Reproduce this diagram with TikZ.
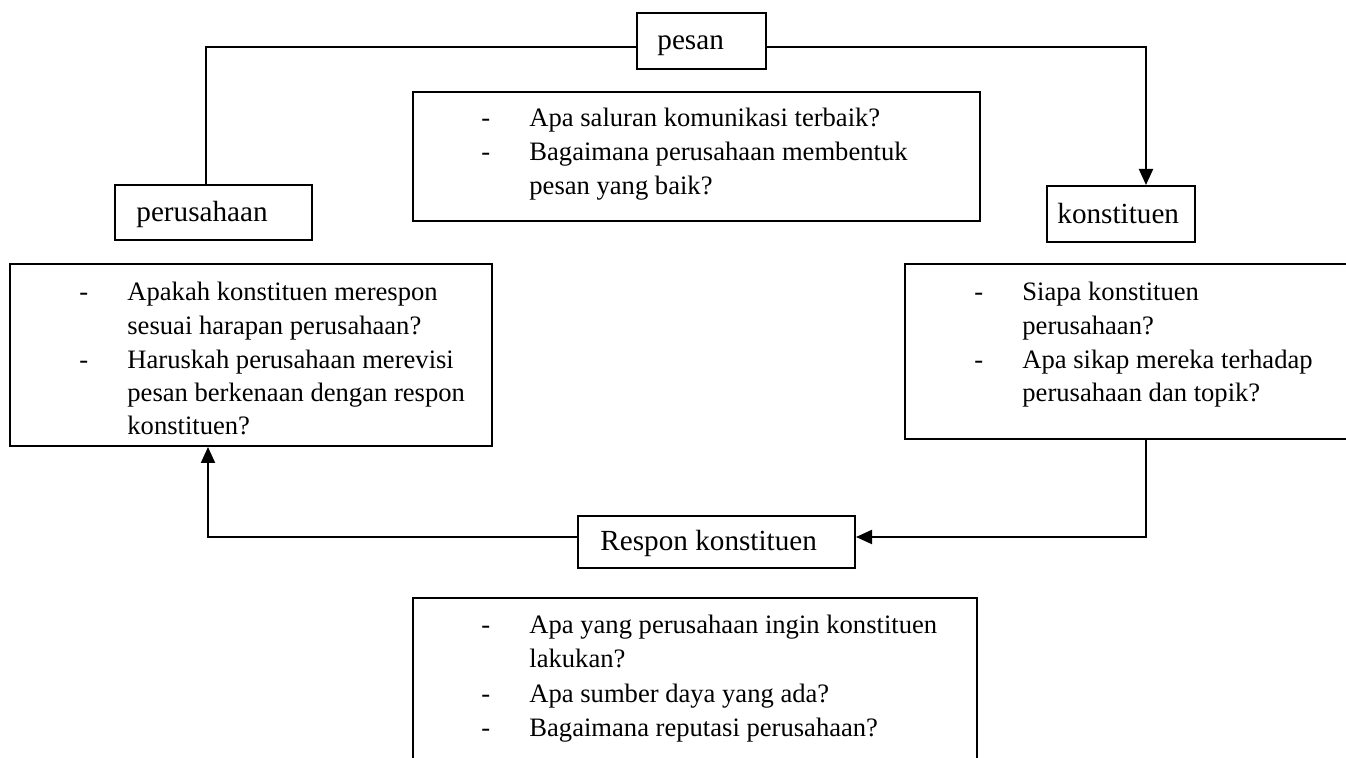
\documentclass[tikz,border=0pt]{standalone}
\usepackage{fontspec}
\setmainfont{Liberation Serif}
\usetikzlibrary{arrows.meta}
\begin{document}
\begin{tikzpicture}[x=0.5pt,y=-0.5pt,
  box/.style={draw, line width=1pt, rectangle, inner sep=0pt},
  txt/.style={anchor=base west, inner sep=0pt},
  lbl/.style={txt, font=\fontsize{14.6}{17}\selectfont},
  item/.style={txt, font=\fontsize{13.3}{16}\selectfont},
  link/.style={line width=1pt},
  tip/.style={link, -{Triangle[length=8pt,width=7pt]}}]
\useasboundingbox (0,0) rectangle (1346,758);
\clip (0,0) rectangle (1346,758);

% labelled boxes
\node[box, minimum width=64.5pt, minimum height=28pt] (pesan) at (701.5,41) {};
\node[lbl] (pesanT) at (657,50) {pesan};
\node[box, minimum width=98.5pt, minimum height=27.5pt] (perusahaan) at (213.5,212.5) {};
\node[lbl] (perusahaanT) at (136,222) {perusahaan};
\node[box, minimum width=74pt, minimum height=28pt] (konstituen) at (1121,214) {};
\node[lbl] (konstituenT) at (1057,224) {konstituen};
\node[box, minimum width=138.5pt, minimum height=26pt] (respon) at (716.5,542) {};
\node[lbl] (responT) at (600,551) {Respon konstituen};

% question boxes
\node[box, minimum width=283.5pt, minimum height=64.5pt] (qpesan) at (696.5,156.5) {};
\node[item] (qp1d) at (481,127) {-};
\node[item] (qp1) at (529,127) {Apa saluran komunikasi terbaik?};
\node[item] (qp2d) at (481,161) {-};
\node[item] (qp2) at (529,161) {Bagaimana perusahaan membentuk};
\node[item] (qp3) at (529,195) {pesan yang baik?};

\node[box, minimum width=241pt, minimum height=91pt] (qperus) at (251,355) {};
\node[item] (qa1d) at (79,301) {-};
\node[item] (qa1) at (127,301) {Apakah konstituen merespon};
\node[item] (qa2) at (127,335) {sesuai harapan perusahaan?};
\node[item] (qa3d) at (79,369) {-};
\node[item] (qa3) at (127,369) {Haruskah perusahaan merevisi};
\node[item] (qa4) at (127,402) {pesan berkenaan dengan respon};
\node[item] (qa5) at (127,435) {konstituen?};

\node[box, minimum width=227.5pt, minimum height=87.5pt] (qkons) at (1132.5,351.5) {};
\node[item] (qk1d) at (974,301) {-};
\node[item] (qk1) at (1022,301) {Siapa konstituen};
\node[item] (qk2) at (1022,335) {perusahaan?};
\node[item] (qk3d) at (974,369) {-};
\node[item] (qk3) at (1022,369) {Apa sikap mereka terhadap};
\node[item] (qk4) at (1022,402) {perusahaan dan topik?};

\node[box, minimum width=282pt, minimum height=91pt] (qresp) at (695,689) {};
\node[item] (qr1d) at (481,634) {-};
\node[item] (qr1) at (529,634) {Apa yang perusahaan ingin konstituen};
\node[item] (qr2) at (529,668) {lakukan?};
\node[item] (qr3d) at (481,703) {-};
\node[item] (qr3) at (529,703) {Apa sumber daya yang ada?};
\node[item] (qr4d) at (481,737) {-};
\node[item] (qr4) at (529,737) {Bagaimana reputasi perusahaan?};

% connectors
\coordinate (tl) at (206,47);
\coordinate (tr) at (1146,47);
\coordinate (br) at (1146,537);
\coordinate (bl) at (208,537);
\draw[link] (pesan.west |- tl) -- (tl) -- (tl |- perusahaan.north);
\draw[tip] (pesan.east |- tr) -- (tr) -- (tr |- konstituen.north);
\draw[tip] (qkons.south -| br) -- (br) -- (respon.east |- br);
\draw[tip] (respon.west |- bl) -- (bl) -- (bl |- qperus.south);
\end{tikzpicture}
\end{document}
